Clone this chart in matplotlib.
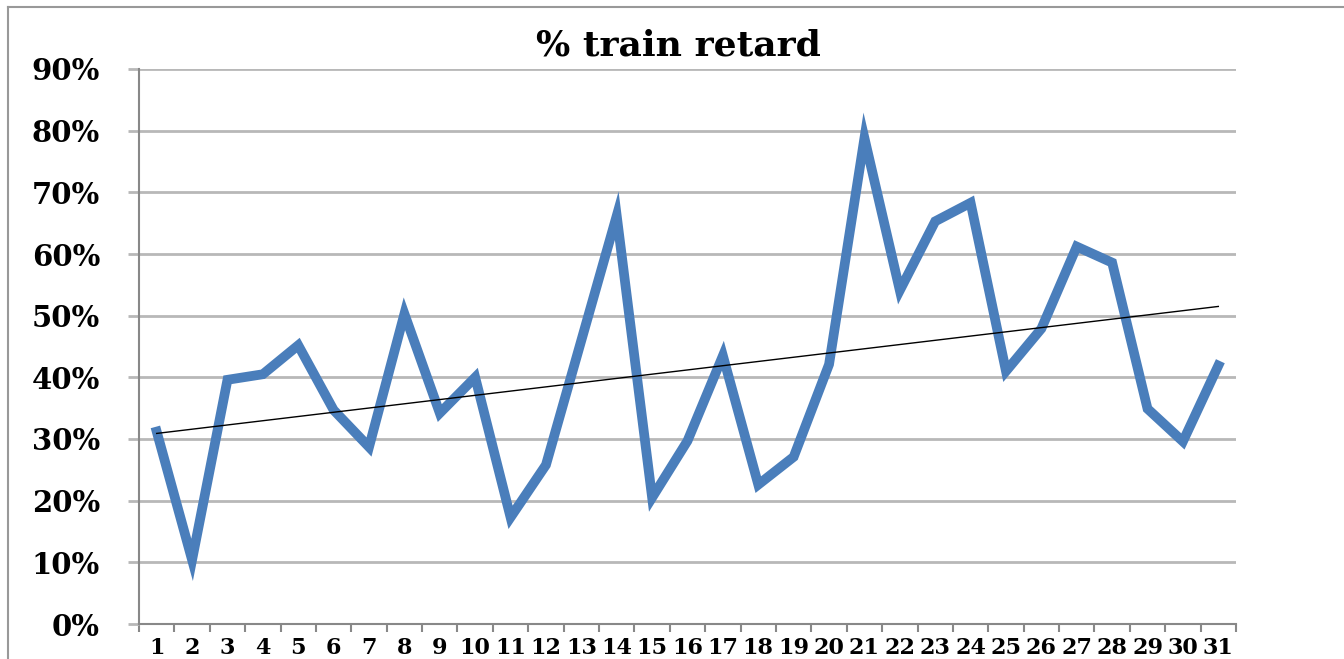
import matplotlib
matplotlib.use('Agg')
import matplotlib.pyplot as plt
import numpy as np
from matplotlib.ticker import FixedLocator, PercentFormatter


# jours du mois et % de trains en retard
jours = list(range(1, 32))
retard = [31.2, 10.4, 39.6, 40.5, 45.2, 34.7, 28.7, 50.3, 34.2, 40.0,
          17.3, 25.8, 46.0, 66.2, 20.5, 29.7, 43.5, 22.6, 27.1, 42.1,
          78.8, 54.1, 65.3, 68.3, 41.0, 47.9, 61.2, 58.6, 34.9, 29.6,
          41.9]
yticks = [0, 10, 20, 30, 40, 50, 60, 70, 80, 90]

police = 'DejaVu Serif'
gris = '#b8b8b8'

fig = plt.figure(figsize=(13.44, 6.59), dpi=100)
ax = fig.add_axes([139/1344, (659-624)/659, (1236-139)/1344, (624-69)/659])

ax.plot(jours, retard, color='#4a7ebb', lw=7, solid_joinstyle='miter', zorder=3)

# courbe de tendance linéaire
a, b = np.polyfit(jours, retard, 1)
x = np.array([jours[0], jours[-1]])
ax.plot(x, a*x + b, color='black', lw=1, zorder=4)

ax.set_xlim(0.5, 31.5)
ax.set_ylim(0, 90)
ax.set_yticks(yticks)
ax.yaxis.set_major_formatter(PercentFormatter(decimals=0))
ax.grid(axis='y', color=gris, lw=2)
ax.set_axisbelow(True)

# graduations entre les catégories, étiquettes au centre
ax.xaxis.set_major_locator(FixedLocator(np.arange(0.5, 32, 1)))
ax.xaxis.set_minor_locator(FixedLocator(jours))
ax.set_xticklabels([])
ax.set_xticklabels([str(j) for j in jours], minor=True)
ax.tick_params(axis='x', which='major', length=6, width=1.5, color='#888888', direction='out')
ax.tick_params(axis='x', which='minor', length=0, pad=9)
ax.tick_params(axis='y', length=8, width=2, color=gris, pad=20)

for lab in ax.get_xticklabels(minor=True):
    lab.set_fontfamily(police)
    lab.set_fontweight('bold')
    lab.set_fontsize(16)
for lab in ax.get_yticklabels():
    lab.set_fontfamily(police)
    lab.set_fontweight('bold')
    lab.set_fontsize(21)

for s in ['top', 'right']:
    ax.spines[s].set_visible(False)
ax.spines['left'].set_color('#888888')
ax.spines['left'].set_linewidth(1.5)
ax.spines['bottom'].set_color('#888888')
ax.spines['bottom'].set_linewidth(1.5)

fig.text(678/1344, 1 - 45/659, '% train retard', ha='center', va='center',
         fontfamily=police, fontweight='heavy', fontsize=26)

# cadre du graphique
fig.add_artist(plt.Line2D([8/1344, 8/1344], [0, 1 - 7/659], color='#999999', lw=1.5))
fig.add_artist(plt.Line2D([8/1344, 1], [1 - 7/659, 1 - 7/659], color='#999999', lw=1.5))

fig.savefig('out.png', dpi=100)
